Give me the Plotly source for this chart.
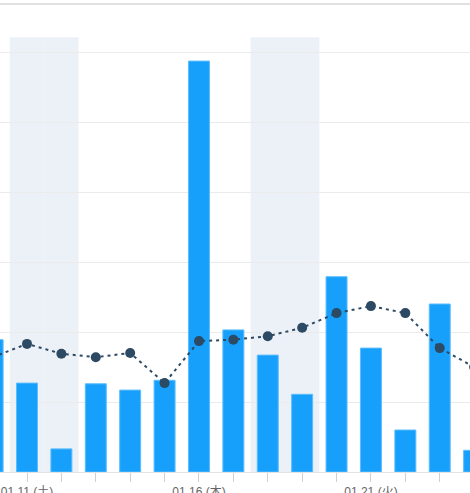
import plotly.graph_objects as go

dates = ["01.10", "01.11", "01.12", "01.13", "01.14", "01.15", "01.16", "01.17",
         "01.18", "01.19", "01.20", "01.21", "01.22", "01.23", "01.24"]
weekdays = ["金", "土", "日", "月", "火", "水", "木", "金",
            "土", "日", "月", "火", "水", "木", "金"]
bar_values = [18.9, 12.7, 3.3, 12.6, 11.7, 13.1, 58.7, 20.3,
              16.7, 11.1, 27.9, 17.7, 6.0, 24.0, 3.1]
line_values = [16.4, 18.3, 16.9, 16.4, 17.0, 12.7, 18.7, 18.9,
               19.4, 20.6, 22.7, 23.7, 22.7, 17.7, 15.0]
label_every = 5
label_offset = 1

x = list(range(len(dates)))
ticktext = [f"{d} ({w})" if (i - label_offset) % label_every == 0 else ""
            for i, (d, w) in enumerate(zip(dates, weekdays))]

fig = go.Figure()
fig.add_trace(go.Bar(
    x=x, y=bar_values, width=0.61,
    marker=dict(color="#17a0fb", line=dict(color="#5cbdfd", width=1)),
))
fig.add_trace(go.Scatter(
    x=x, y=line_values, mode="lines+markers",
    line=dict(color="#2c4a63", width=2, dash="3px,4px"),
    marker=dict(color="#2c4a63", size=10),
))

shade_top = 62.1
for i, w in enumerate(weekdays):
    if w in ("土", "日"):
        fig.add_shape(type="rect", xref="x", yref="y",
                      x0=i - 0.5, x1=i + 0.5, y0=0, y1=shade_top,
                      fillcolor="#ecf0f7", line=dict(width=0), layer="below")

fig.add_shape(type="line", xref="paper", yref="paper",
              x0=0, x1=1, y0=1 - 4 / 472, y1=1 - 4 / 472,
              line=dict(color="#e0e0e0", width=2))

fig.update_layout(
    width=470, height=493,
    margin=dict(l=0, r=0, t=0, b=21),
    paper_bgcolor="white", plot_bgcolor="white",
    showlegend=False,
    font=dict(family="Liberation Sans, Noto Sans CJK JP, sans-serif", size=12, color="#666"),
    xaxis=dict(range=[0.215, 13.88], tickmode="array", tickvals=x, ticktext=ticktext,
               ticks="outside", ticklen=9, tickcolor="#d0d0d0", showgrid=False,
               showline=True, linecolor="#e3e3e3", zeroline=False, automargin=False),
    yaxis=dict(range=[0, 472 / 7], dtick=10, showticklabels=False, showgrid=True,
               gridcolor="#ebebeb", gridwidth=1, zeroline=False, automargin=False),
)

fig.write_html(
    "out.html",
    config={"displayModeBar": False},
    post_script="document.body.style.margin='0';document.body.style.overflow='hidden';",
)
